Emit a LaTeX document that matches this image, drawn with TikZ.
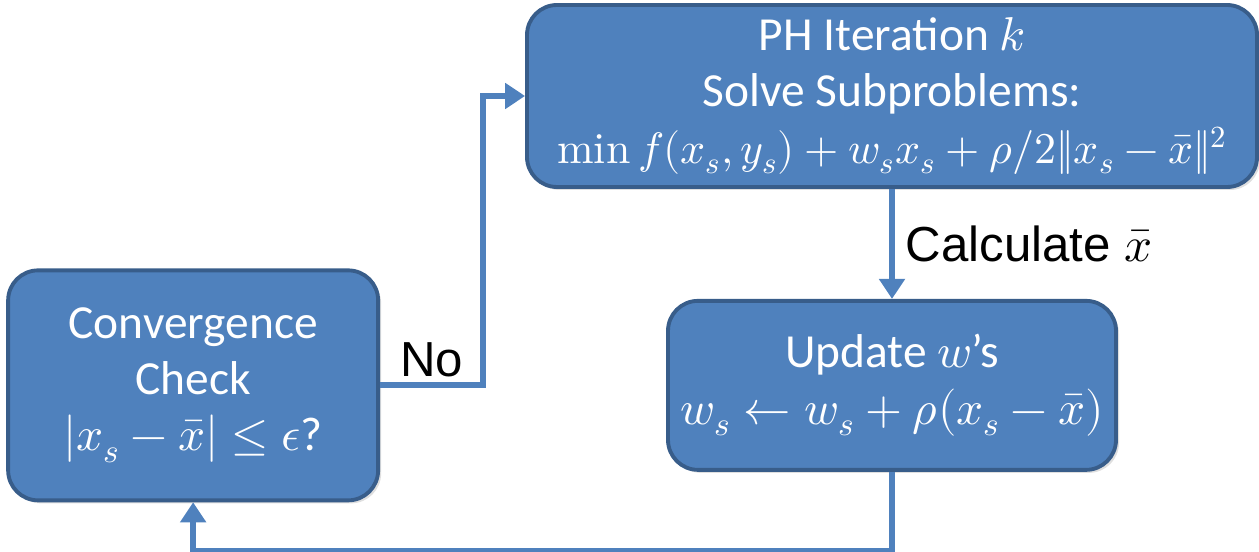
\documentclass[tikz,border=0pt]{standalone}
\usepackage{amsmath}
\usepackage{fontspec}
\usepackage{unicode-math}
\setmainfont{Carlito}
\setmathfont{Latin Modern Math}
\newfontfamily\labelfont{Liberation Sans}
\usepackage{tikz}
\usetikzlibrary{positioning,arrows.meta,shadows}
\usepackage{xcolor}
\definecolor{boxblue}{HTML}{4F81BD}
\definecolor{boxedge}{HTML}{385D8A}

\begin{document}
\begin{tikzpicture}[>={Triangle[length=4mm,width=5mm]},node distance=2.2cm and 5.72cm,
  stage/.style={draw=boxedge,line width=2.2pt,fill=boxblue,rounded corners=0.6cm,text=white,align=center,
    font=\fontsize{27}{32}\selectfont,drop shadow={opacity=0.25,shadow xshift=0.06cm,shadow yshift=-0.06cm}},
  flow/.style={->,draw=boxblue,line width=3.4pt},
  tag/.style={font=\labelfont\fontsize{28}{32}\selectfont}]
\useasboundingbox (0,0) rectangle (25.18,-11.04);
\node[stage,minimum width=14.6cm,minimum height=3.64cm] (ph) at (17.84,-1.92)
  {PH Iteration $k$\\ Solve Subproblems:\\
   \fontsize{25}{32}\selectfont$\mathop{\symup{min}} f(x_s,y_s)+w_sx_s+\rho/2\|x_s-\bar{x}\|^2$};
\node[stage,minimum width=8.96cm,minimum height=3.38cm] (upd) [below=of ph]
  {Update $w$’s\\ $w_s\leftarrow w_s+\rho(x_s-\bar{x})$};
\node[stage,minimum width=7.4cm,minimum height=4.6cm] (conv) [left=of upd]
  {Convergence\\ Check\\ $|x_s-\bar{x}|\le\epsilon$?};
\coordinate[right=2.06cm of conv.east] (nobend);
\coordinate[below=1.58cm of upd.south] (loopbase);
\draw[flow] (ph) -- (upd) node[midway,right,tag,xshift=1mm]{Calculate $\bar{x}$};
\draw[flow] (upd.south) -- (loopbase) -| (conv.south);
\draw[flow] (conv.east) -- (nobend) node[midway,above,tag]{No} |- (ph.west);
\end{tikzpicture}
\end{document}
